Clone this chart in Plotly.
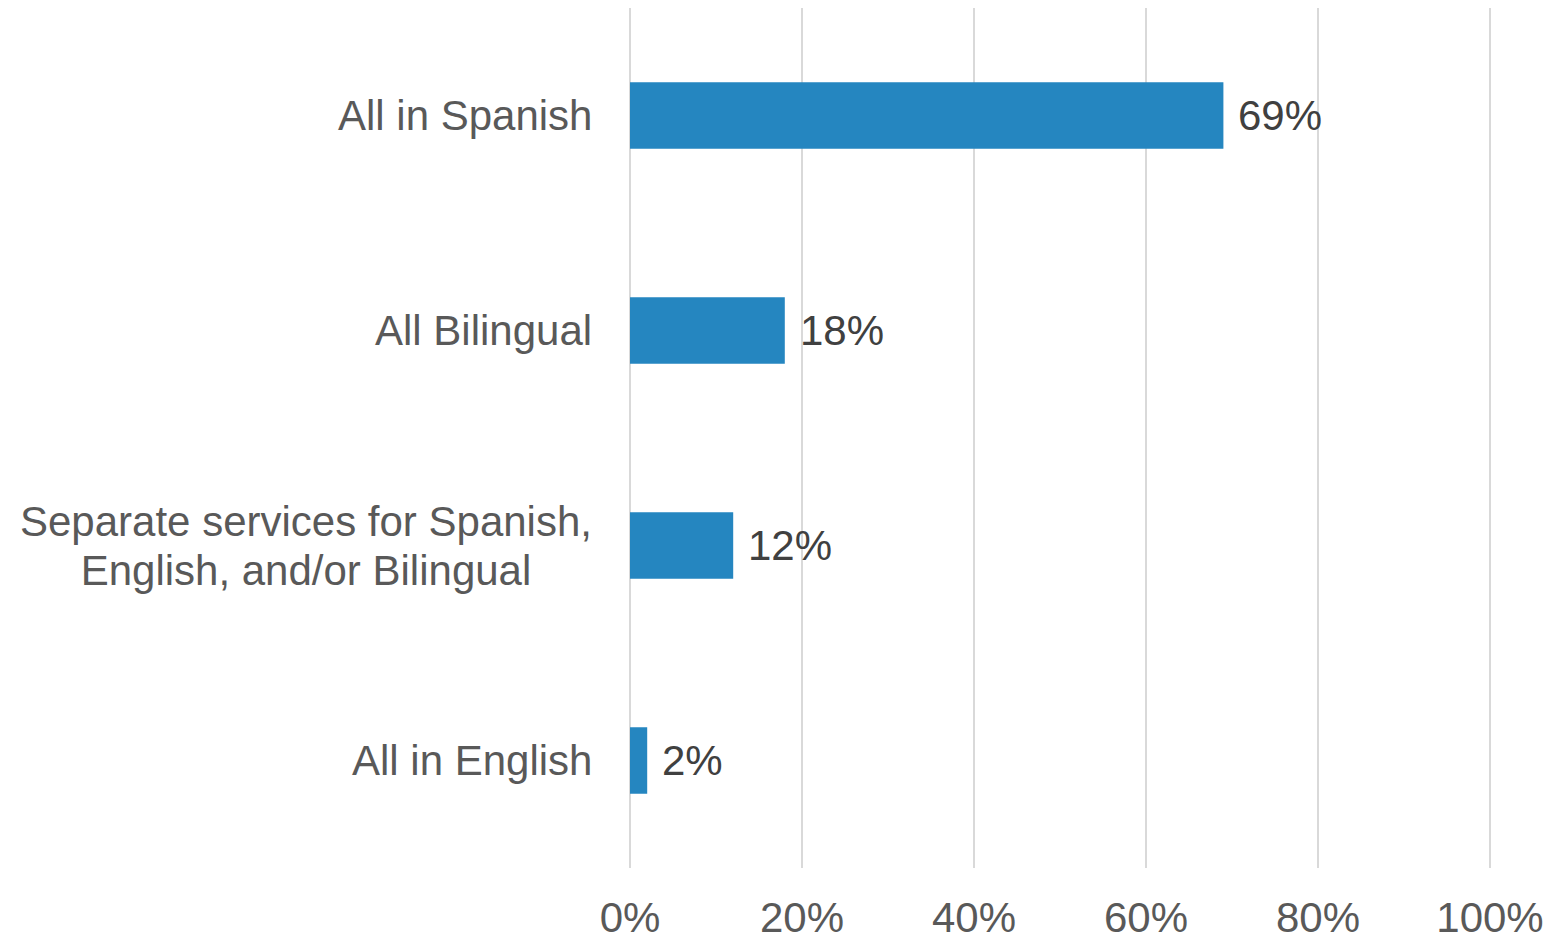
import plotly.graph_objects as go

categories = ["All in English", "Separate services for Spanish,<br>English, and/or Bilingual",
              "All Bilingual", "All in Spanish"]
values = [2, 12, 18, 69]
value_labels = ["2%", "12%", "18%", "69%"]
tick_vals = [0, 20, 40, 60, 80, 100]
tick_text = ["0%", "20%", "40%", "60%", "80%", "100%"]

FONT = "Liberation Sans, Arial, sans-serif"

fig = go.Figure(go.Bar(
    x=values, y=categories, orientation="h",
    marker=dict(color="#2586C0", line=dict(width=0)),
    hoverinfo="skip",
))

annotations = []
for c in categories:
    annotations.append(dict(
        x=0, xref="x", y=c, yref="y",
        text="<br>".join('<span style="font-size:42px">%s</span>' % p for p in c.split("<br>")),
        showarrow=False,
        xanchor="right", yanchor="middle", xshift=-36, align="center",
        font=dict(family=FONT, size=37.7, color="#595959"),
    ))
for c, v, t in zip(categories, values, value_labels):
    annotations.append(dict(
        x=v, xref="x", y=c, yref="y", text=t, showarrow=False,
        xanchor="left", yanchor="middle", xshift=13,
        font=dict(family=FONT, size=42, color="#404040"),
    ))

fig.update_layout(
    width=1557, height=940,
    margin=dict(l=618, r=71, t=0, b=80, pad=0),
    paper_bgcolor="white", plot_bgcolor="white",
    bargap=0.69,
    showlegend=False,
    annotations=annotations,
    xaxis=dict(
        range=[-0.465, 100.465], tickvals=tick_vals, ticktext=tick_text,
        showgrid=True, gridcolor="#d9d9d9", gridwidth=1.5,
        zeroline=False, showline=False, ticks="",
        tickfont=dict(family=FONT, size=42, color="#595959"),
        ticklabelstandoff=21,
        fixedrange=True,
    ),
    yaxis=dict(
        categoryorder="array", categoryarray=categories,
        range=[-0.5, 3.5],
        showticklabels=False, showgrid=False, zeroline=False, showline=False,
        ticks="", fixedrange=True,
    ),
)

fig.write_html("out.html")
